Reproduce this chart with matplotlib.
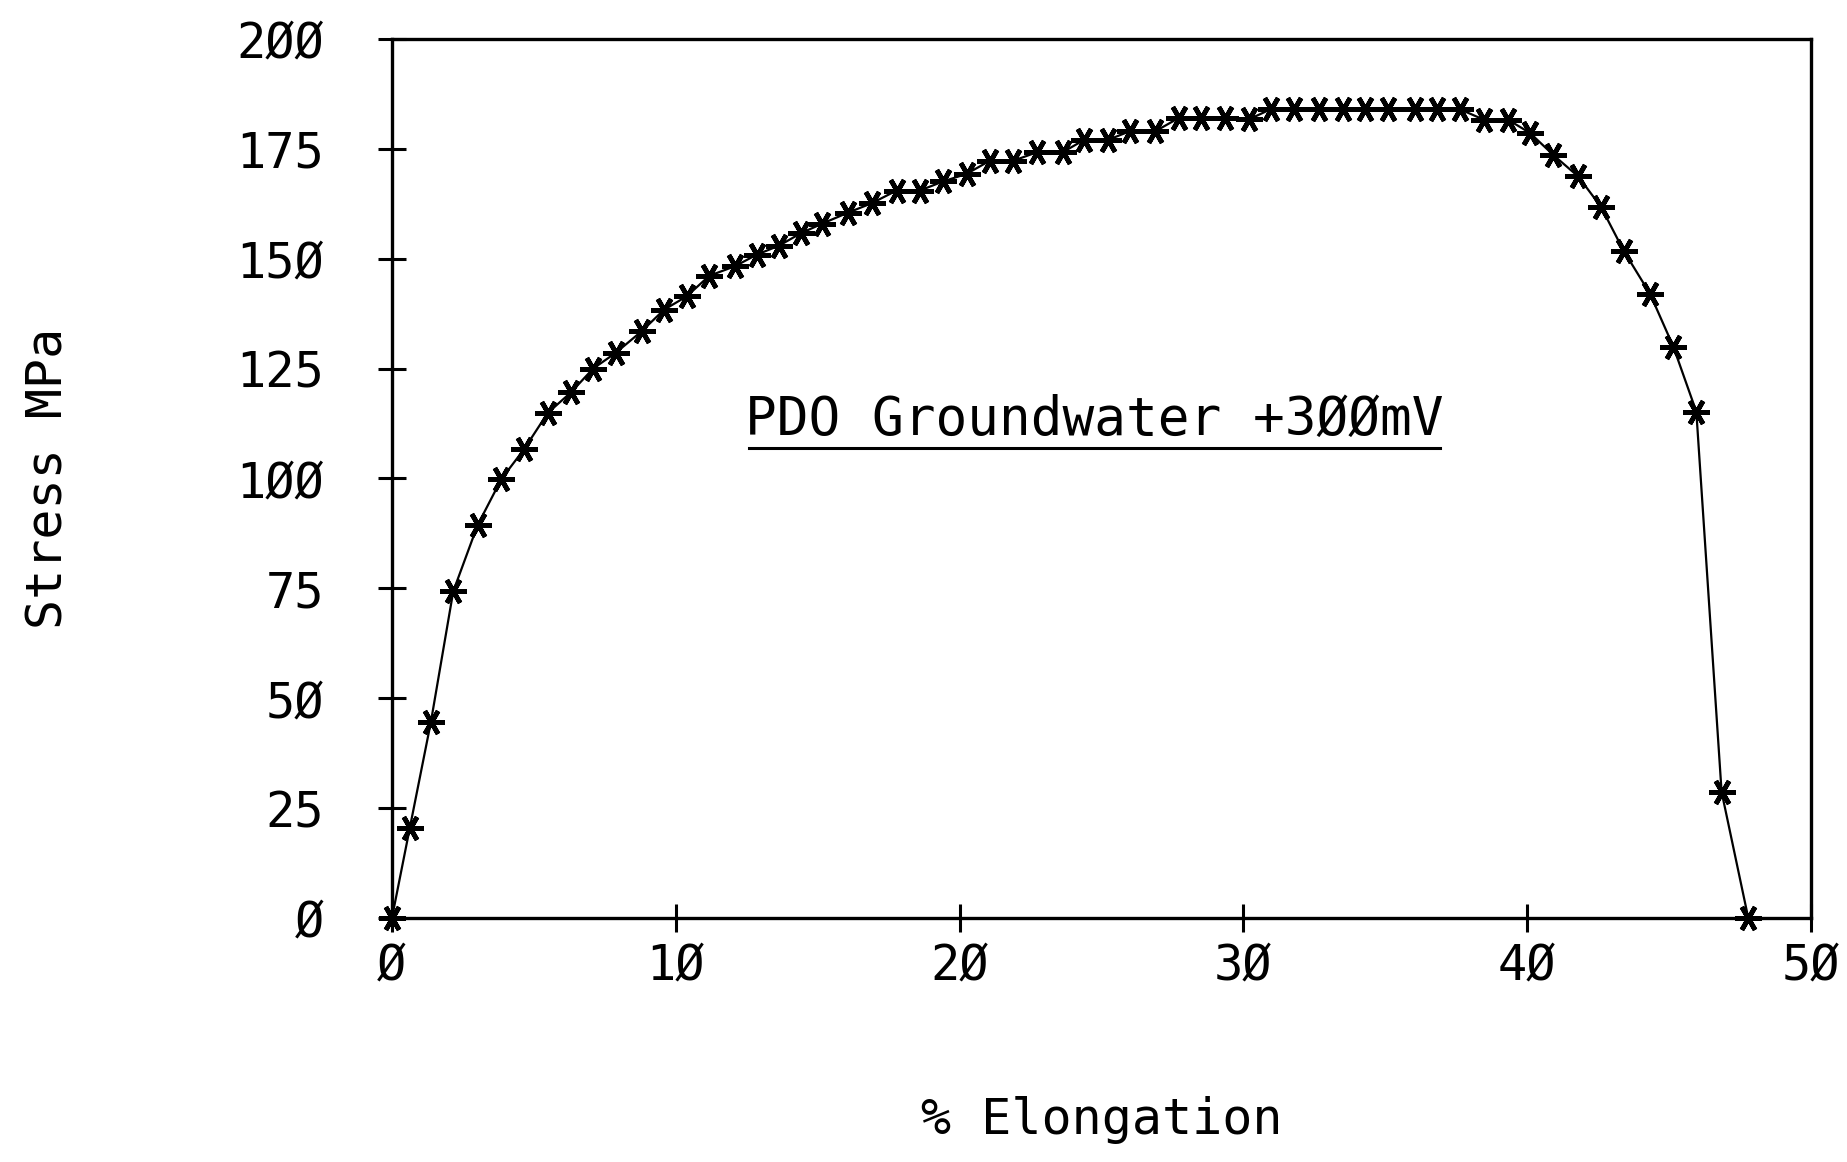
"""
Stress vs % elongation, PDO groundwater +300mV (plotter-style recreation).
"""
import matplotlib
matplotlib.use('Agg')
import matplotlib.pyplot as plt
from matplotlib.lines import Line2D

# data
elongation = [0, 0.63, 1.37, 2.16, 3.02, 3.86, 4.65, 5.49, 6.31, 7.09,
              7.89, 8.80, 9.59, 10.38, 11.18, 12.09, 12.85, 13.65, 14.41, 15.17,
              16.08, 16.9, 17.78, 18.6, 19.43, 20.25, 21.07, 21.9, 22.72, 23.63,
              24.38, 25.22, 26.0, 26.9, 27.72, 28.5, 29.37, 30.2, 30.96, 31.78,
              32.67, 33.5, 34.28, 35.1, 36.05, 36.81, 37.63, 38.48, 39.33, 40.1,
              40.92, 41.8, 42.6, 43.4, 44.33, 45.15, 45.96, 46.85, 47.79]
stress = [0, 20.5, 44.5, 74.3, 89.4, 99.9, 106.6, 114.9, 119.6, 125,
          128.6, 133.5, 138.4, 141.4, 146.1, 148.3, 150.9, 153, 155.8, 158,
          160.5, 162.6, 165.5, 165.5, 167.6, 169.3, 172.3, 172.3, 174.2, 174.2,
          177, 177, 179, 179, 182, 182, 182, 181.7, 184, 184,
          184, 184, 184, 184, 184, 184, 184, 181.6, 181.6, 178.6,
          173.6, 168.7, 161.8, 151.8, 142, 130, 115.2, 28.7, 0]

x_ticks = [0, 10, 20, 30, 40, 50]
x_ticklabels = ["Ø", "1Ø", "2Ø", "3Ø", "4Ø", "5Ø"]
y_ticks = [0, 25, 50, 75, 100, 125, 150, 175, 200]
y_ticklabels = ["Ø", "25", "5Ø", "75", "1ØØ", "125", "15Ø", "175", "2ØØ"]

title = "PDO Groundwater +3ØØmV"
xlabel = "% Elongation"
ylabel = "Stress MPa"

plt.rcParams.update({
    "font.family": ["DejaVu Sans Mono"],
    "font.size": 34,
})

fig = plt.figure(figsize=(18.47, 11.62), dpi=100)
ax = fig.add_axes([0.2122, 0.2100, 0.7683, 0.7565])

ax.plot(elongation, stress, color="black", lw=1.6,
        marker=(6, 2, 90), markersize=19, mew=3.4, mec="black",
        clip_on=False, zorder=3)

ax.set_xlim(0, 50)
ax.set_ylim(0, 200)
ax.set_xticks(x_ticks)
ax.set_xticklabels(x_ticklabels)
ax.set_yticks(y_ticks)
ax.set_yticklabels(y_ticklabels)

ax.tick_params(axis="both", direction="inout", length=20, width=2.2,
               color="black", labelsize=35)
ax.tick_params(axis="y", pad=39)
ax.tick_params(axis="x", pad=7)
for sp in ax.spines.values():
    sp.set_linewidth(2.4)
    sp.set_color("black")

ax.set_xlabel(xlabel, fontsize=36)
ax.xaxis.set_label_coords(0.5, -0.203)
ax.set_ylabel(ylabel, fontsize=36)
ax.yaxis.set_label_coords(-0.225, 0.5)

# annotation with an underline drawn from its rendered extent
txt = ax.text(24.75, 110, title, fontsize=38, ha="center", va="baseline")
fig.canvas.draw()
bb = txt.get_window_extent()
inv = fig.transFigure.inverted()
(x0, y0), (x1, _) = inv.transform([(bb.x0 + 4, bb.y0), (bb.x1 - 4, bb.y0)])
fig.add_artist(Line2D([x0, x1], [y0 - 0.002, y0 - 0.002],
                      transform=fig.transFigure, color="black", lw=2.2))

fig.savefig("out.png", dpi=100, facecolor="white")
plt.close(fig)
